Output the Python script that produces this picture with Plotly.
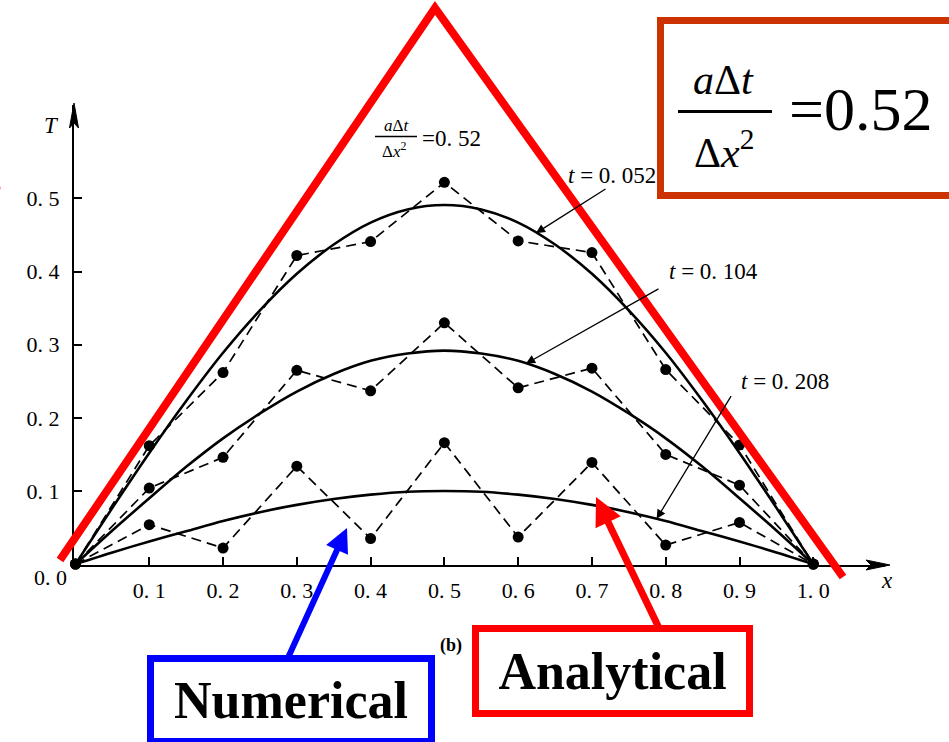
import numpy as np
import plotly.graph_objects as go

# ---- data -------------------------------------------------------------
x_nodes = [0.0, 0.1, 0.2, 0.3, 0.4, 0.5, 0.6, 0.7, 0.8, 0.9, 1.0]

numerical_t052 = [0.0, 0.162, 0.262, 0.422, 0.441, 0.522, 0.442, 0.426, 0.266, 0.163, 0.0]
numerical_t104 = [0.0, 0.104, 0.146, 0.265, 0.237, 0.330, 0.241, 0.268, 0.150, 0.108, 0.0]
numerical_t208 = [0.0, 0.054, 0.022, 0.134, 0.035, 0.166, 0.037, 0.139, 0.026, 0.057, 0.0]

x_fine = [0.0, 0.05, 0.1, 0.15, 0.2, 0.25, 0.3, 0.35, 0.4, 0.45, 0.5,
          0.55, 0.6, 0.65, 0.7, 0.75, 0.8, 0.85, 0.9, 0.95, 1.0]
analytical_t052 = [0.0, 0.077, 0.152, 0.223, 0.289, 0.347, 0.397, 0.437, 0.467, 0.485, 0.491,
                   0.485, 0.467, 0.437, 0.397, 0.347, 0.289, 0.223, 0.152, 0.077, 0.0]
analytical_t104 = [0.0, 0.046, 0.090, 0.133, 0.172, 0.206, 0.236, 0.260, 0.278, 0.288, 0.292,
                   0.288, 0.278, 0.260, 0.236, 0.206, 0.172, 0.133, 0.090, 0.046, 0.0]
analytical_t208 = [0.0, 0.016, 0.031, 0.045, 0.059, 0.071, 0.081, 0.089, 0.095, 0.099, 0.100,
                   0.099, 0.095, 0.089, 0.081, 0.071, 0.059, 0.045, 0.031, 0.016, 0.0]

x_tick_vals = [0.1, 0.2, 0.3, 0.4, 0.5, 0.6, 0.7, 0.8, 0.9, 1.0]
x_tick_text = ["0. 1", "0. 2", "0. 3", "0. 4", "0. 5", "0. 6", "0. 7", "0. 8", "0. 9", "1. 0"]
y_tick_vals = [0.1, 0.2, 0.3, 0.4, 0.5]
y_tick_text = ["0. 1", "0. 2", "0. 3", "0. 4", "0. 5"]

# curve labels: (text, series, x of the point the leader touches, leader tail in data coords)
curve_labels = [
    ("<i>t</i> = 0. 052", analytical_t052, 0.624, (0.7204, 0.5143)),
    ("<i>t</i> = 0. 104", analytical_t104, 0.6106, (0.7922, 0.3776)),
    ("<i>t</i> = 0. 208", analytical_t208, 0.7877, (0.8898, 0.2318)),
]

# ---- page geometry helpers (pixel -> paper) ---------------------------
W, H = 949, 742
SERIF = "Liberation Serif"


def px(x):
    return x / W


def py(y):
    return 1 - y / H


def path(points, close=False):
    s = "M " + " L ".join(f"{px(a):.5f},{py(b):.5f}" for a, b in points)
    return s + (" Z" if close else "")


fig = go.Figure()

for ys in (analytical_t052, analytical_t104, analytical_t208):
    fig.add_trace(go.Scatter(
        x=x_fine, y=ys, mode="lines",
        line=dict(color="black", width=2.6, shape="spline", smoothing=0.8),
        cliponaxis=False, hoverinfo="skip"))

for ys in (numerical_t052, numerical_t104, numerical_t208):
    fig.add_trace(go.Scatter(
        x=x_nodes, y=ys, mode="lines+markers",
        line=dict(color="black", width=1.7, dash="10px,6px"),
        marker=dict(color="black", size=11),
        cliponaxis=False, hoverinfo="skip"))

fig.update_layout(
    width=W, height=H,
    margin=dict(l=0, r=0, t=0, b=0),
    paper_bgcolor="white", plot_bgcolor="white",
    showlegend=False,
    xaxis=dict(
        domain=[74 / W, 885 / W], range=[-0.002, 1.0972],
        showgrid=False, zeroline=False,
        showline=True, linecolor="black", linewidth=2,
        ticks="inside", ticklen=8, tickwidth=1.6, tickcolor="black",
        tickvals=x_tick_vals, ticktext=x_tick_text,
        tickfont=dict(family=SERIF, size=22, color="black"),
        ticklabelstandoff=5,
    ),
    yaxis=dict(
        domain=[py(565), py(105)], range=[-0.0012, 0.6278],
        showgrid=False, zeroline=False,
        showline=True, linecolor="black", linewidth=2,
        ticks="inside", ticklen=8, tickwidth=1.6, tickcolor="black",
        tickvals=y_tick_vals, ticktext=y_tick_text,
        tickfont=dict(family=SERIF, size=22, color="black"),
        ticklabelstandoff=8,
    ),
)

shapes = []
# arrowheads at the ends of both axes
shapes.append(dict(type="path", xref="paper", yref="paper", layer="above",
                   path=path([(890, 565), (866, 560), (871, 565), (866, 570)], close=True),
                   fillcolor="black", line=dict(color="black", width=1)))
shapes.append(dict(type="path", xref="paper", yref="paper", layer="above",
                   path=path([(74, 103), (69.5, 128), (74, 123), (78.5, 128)], close=True),
                   fillcolor="black", line=dict(color="black", width=1)))
# red triangle outline
shapes.append(dict(type="path", xref="paper", yref="paper", layer="above",
                   path=path([(60, 560), (435, 8), (843, 577)]),
                   line=dict(color="#ff0000", width=8)))
# fraction bars
shapes.append(dict(type="line", xref="paper", yref="paper", layer="above",
                   x0=px(375), x1=px(417), y0=py(136.5), y1=py(136.5),
                   line=dict(color="black", width=1.5)))
shapes.append(dict(type="line", xref="paper", yref="paper", layer="above",
                   x0=px(678), x1=px(772), y0=py(111.5), y1=py(111.5),
                   line=dict(color="black", width=3)))
fig.update_layout(shapes=shapes)

ann = []


def text(t, x, y, size, xanchor="center", color="black", **kw):
    ann.append(dict(text=t, xref="paper", yref="paper", x=px(x), y=py(y),
                    xanchor=xanchor, yanchor="middle", showarrow=False,
                    font=dict(family=SERIF, size=size, color=color), **kw))


# axis titles and origin label
text("<i>T</i>", 51, 126, 23)
text("<i>x</i>", 887, 580, 23)
text("0. 0", 50, 577, 22)

# in-plot parameter label
text("<i>a</i>Δ<i>t</i>", 396, 126, 17)
text("Δ<i>x</i><sup>2</sup>", 394, 150, 17)
text("=0. 52", 420, 138, 23, xanchor="left")

# curve labels with leaders
label_pos = [(566, 175, "left"), (713, 272, "center"), (785, 381, "center")]
for (lab, ys, hx, tail), (lx, ly, anc) in zip(curve_labels, label_pos):
    hy = float(np.interp(hx, x_fine, ys))
    ann.append(dict(text="", xref="x", yref="y", x=hx, y=hy,
                    axref="x", ayref="y", ax=tail[0], ay=tail[1],
                    showarrow=True, arrowhead=2, arrowsize=1.4, arrowwidth=1.3,
                    arrowcolor="black", standoff=0))
    text(lab, lx, ly, 23, xanchor=anc)

text("<b>(b)</b>", 451, 645, 18)

# big parameter box
ann.append(dict(text=" ", xref="paper", yref="paper", x=px(657), y=py(17),
                xanchor="left", yanchor="top", showarrow=False,
                width=300, height=168, borderpad=0, borderwidth=7,
                bordercolor="#cc3300", bgcolor="rgba(0,0,0,0)",
                font=dict(family=SERIF, size=10)))
text("<i>a</i>Δ<i>t</i>", 723, 80, 42)
text("Δ<i>x</i><sup>2</sup>", 724, 150, 42)
text("=0.52", 860, 109, 62)

# pointers to the two kinds of curve
ann.append(dict(text="", xref="paper", yref="paper", x=px(347), y=py(528),
                ax=-60, ay=132, showarrow=True, arrowhead=2, arrowsize=0.8,
                arrowwidth=6, arrowcolor="#0000ff", standoff=0))
ann.append(dict(text="", xref="paper", yref="paper", x=px(596), y=py(497),
                ax=63, ay=131, showarrow=True, arrowhead=2, arrowsize=0.8,
                arrowwidth=7, arrowcolor="#ff0000", standoff=0))

ann.append(dict(text="<b>Numerical</b>", xref="paper", yref="paper",
                x=px(291), y=py(700), xanchor="center", yanchor="middle",
                showarrow=False, width=274, height=76, borderpad=0,
                borderwidth=7, bordercolor="#0000ff", bgcolor="white",
                font=dict(family=SERIF, size=52, color="black")))
ann.append(dict(text="<b>Analytical</b>", xref="paper", yref="paper",
                x=px(612.5), y=py(671), xanchor="center", yanchor="middle",
                showarrow=False, width=267, height=78, borderpad=0,
                borderwidth=7, bordercolor="#ff0000", bgcolor="white",
                font=dict(family=SERIF, size=52, color="black")))

# red glyph sliver clipped by the left edge
text("<b>g</b>", 3, 165, 60, xanchor="right", color="#ff0000")

fig.update_layout(annotations=ann)

fig.write_html("out.html")
